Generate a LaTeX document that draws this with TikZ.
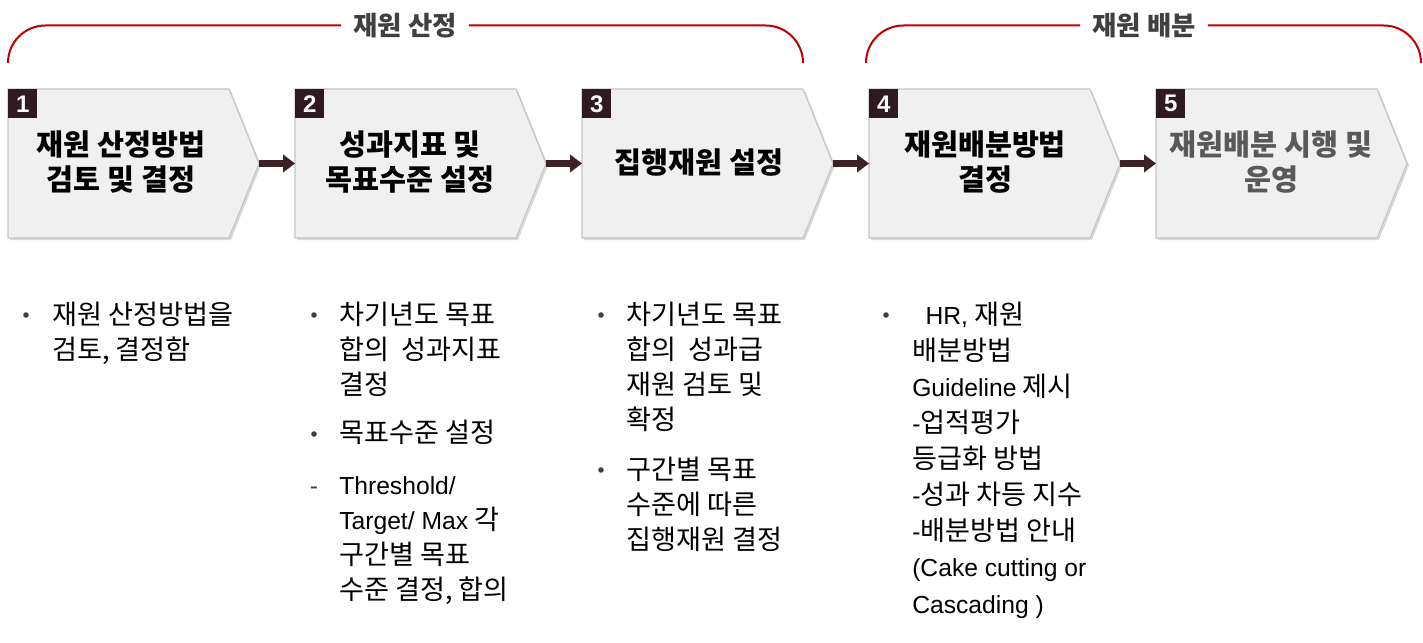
\documentclass[tikz,border=0pt]{standalone}
\usepackage{fontspec}
\setmainfont{Noto Sans CJK KR}[Scale=1.1]
\newfontfamily\lat{Liberation Sans}
\usetikzlibrary{arrows.meta,shadows}
\definecolor{bracketred}{HTML}{C00000}
\definecolor{labelgray}{HTML}{404040}
\definecolor{numdark}{HTML}{2E1A1F}
\definecolor{arrowdark}{HTML}{3B2226}
\definecolor{boxfill}{HTML}{F0F0F0}
\definecolor{boxline}{HTML}{C4C4C4}
\definecolor{softtext}{HTML}{595959}
\begin{document}
\begin{tikzpicture}[x=0.75pt,y=-0.75pt,
  chev/.style={fill=boxfill, draw=boxline, line width=0.8pt,
    drop shadow={shadow xshift=1.5pt, shadow yshift=-1.5pt, opacity=0.15, fill=black}},
  numbox/.style={fill=numdark, text=white, font=\lat\bfseries\fontsize{18}{18}\selectfont,
    minimum size=21.75pt, inner sep=0pt, anchor=north west},
  steptitle/.style={font=\bfseries\fontsize{20}{26.25}\selectfont, align=center, inner sep=0pt, text=black},
  flow/.style={draw=arrowdark, line width=5.25pt, -{Triangle[length=9pt,width=13pt]}},
  bracket/.style={draw=bracketred, line width=1.5pt, rounded corners=28pt},
  brlabel/.style={font=\bfseries\fontsize{18}{20}\selectfont, text=labelgray, inner xsep=9pt, inner ysep=0pt},
  btext/.style={anchor=base west, inner sep=0pt, font=\fontsize{18.5}{26.25}\selectfont},
  bul/.style={circle, fill=labelgray, inner sep=0pt, minimum size=4.2pt},
  dashmark/.style={font=\lat\fontsize{18.5}{18.5}\selectfont, text=labelgray, inner sep=0pt, anchor=base},
]
\useasboundingbox (0,0) rectangle (1423,642);

% brackets
\node[brlabel] (lab1) at (405,25.5) {재원 산정};
\node[brlabel] (lab2) at (1144,25.5) {재원 배분};
\coordinate (br1l) at (8,62);
\coordinate (br1r) at (803,62);
\coordinate (br2l) at (866,62);
\coordinate (br2r) at (1421,62);
\draw[bracket] (br1l) |- (lab1.west);
\draw[bracket] (lab1.east) -| (br1r);
\draw[bracket] (br2l) |- (lab2.west);
\draw[bracket] (lab2.east) -| (br2r);

% chevrons
\foreach \i/\L in {1/8, 2/295, 3/582, 4/869, 5/1156}{
  \path[chev] (\L,89) -- (\L+221,89) -- (\L+251,163.5) -- (\L+221,238) -- (\L,238) -- cycle;
  \coordinate (tip\i) at (\L+251,163.5);
  \coordinate (in\i) at (\L,163.5);
  \node[numbox] (n\i) at (\L,89) {\i};
}
\node[steptitle] (t1) at (121,162) {재원 산정방법\\검토 및 결정};
\node[steptitle] (t2) at (410,162) {성과지표 및\\목표수준 설정};
\node[steptitle] (t3) at (699,163) {집행재원 설정};
\node[steptitle] (t4) at (985,162) {재원배분방법\\결정};
\node[steptitle, text=softtext] (t5) at (1271,162) {재원배분 시행 및\\운영};

\draw[flow] (tip1) -- (in2);
\draw[flow] (tip2) -- (in3);
\draw[flow] (tip3) -- (in4);
\draw[flow] (tip4) -- (in5);

% column 1
\node[bul] (b1a) at (26,315) {};
\node[btext] (c1a) at (52,324) {\parbox[t]{220pt}{\raggedright 재원 산정방법을\\검토, 결정함}};

% column 2
\node[bul] (b2a) at (314,315) {};
\node[btext] (c2a) at (339,324) {\parbox[t]{220pt}{\raggedright 차기년도 목표\\합의~~성과지표\\결정}};
\node[bul] (b2b) at (314,434) {};
\node[btext] (c2b) at (339,442) {\parbox[t]{220pt}{\raggedright 목표수준 설정}};
\node[dashmark] (b2c) at (314,494) {-};
\node[btext] (c2c) at (339,494) {\parbox[t]{220pt}{\raggedright {\lat Threshold/}\\{\lat Target/ Max} 각\\구간별 목표\\수준 결정, 합의}};

% column 3
\node[bul] (b3a) at (601,315) {};
\node[btext] (c3a) at (626,324) {\parbox[t]{220pt}{\raggedright 차기년도 목표\\합의~~성과급\\재원 검토 및\\확정}};
\node[bul] (b3b) at (601,470) {};
\node[btext] (c3b) at (626,479) {\parbox[t]{220pt}{\raggedright 구간별 목표\\수준에 따른\\집행재원 결정}};

% column 4
\node[bul] (b4a) at (886,315) {};
\node[btext, font=\fontsize{18.5}{27.1}\selectfont] (c4a) at (912,324) {\parbox[t]{240pt}{\raggedright \hspace*{10pt}{\lat HR,} 재원\\배분방법\\{\lat Guideline} 제시\\{\lat -}업적평가\\등급화 방법\\{\lat -}성과 차등 지수\\{\lat -}배분방법 안내\\{\lat (Cake cutting or}\\{\lat Cascading )}}};
\end{tikzpicture}
\end{document}
